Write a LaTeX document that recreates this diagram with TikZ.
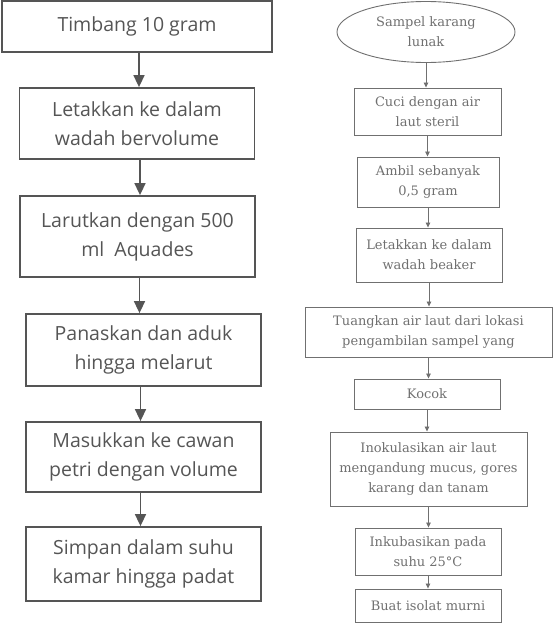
\documentclass[tikz,border=0pt]{standalone}
\usepackage{fontspec}
\setmainfont{DejaVu Serif}
\newfontfamily\boxfont{Open Sans}
\usetikzlibrary{shapes.geometric}
\usetikzlibrary{arrows.meta}
\usetikzlibrary{positioning}

\definecolor{lgray}{HTML}{555555}
\definecolor{rgray}{HTML}{707070}

\begin{document}
\begin{tikzpicture}[x=1pt, y=-1pt,
	bigbox/.style={draw=lgray, line width=1.8pt, text=lgray, align=center, inner sep=0pt, font=\boxfont\fontsize{19.5}{29}\selectfont},
	smallbox/.style={draw=rgray, line width=0.9pt, text=rgray, align=center, inner sep=0pt, font=\fontsize{13}{20}\selectfont},
	bigarrow/.style={draw=lgray, line width=1.6pt, -{Triangle[width=11pt, length=12pt]}},
	smallarrow/.style={draw=rgray, line width=0.8pt, -{Triangle[width=4.5pt, length=5pt]}}]
	\useasboundingbox (0,0) rectangle (554,632);
	% left column
	\node[bigbox, minimum width=270pt, minimum height=51pt] (L1) at (137, 26.5) {Timbang 10 gram};
	\node[bigbox, minimum width=235pt, minimum height=71pt] (L2) at (137, 123.5) {Letakkan ke dalam\\wadah bervolume};
	\node[bigbox, minimum width=235pt, minimum height=81pt] (L3) at (137.5, 236.5) {Larutkan dengan 500\\ml\ \ Aquades};
	\node[bigbox, minimum width=235pt, minimum height=72pt] (L4) at (143.5, 350) {Panaskan dan aduk\\hingga melarut};
	\node[bigbox, minimum width=235pt, minimum height=70pt] (L5) at (143.5, 457) {Masukkan ke cawan\\petri dengan volume};
	\node[bigbox, minimum width=235pt, minimum height=74pt] (L6) at (143.5, 564) {Simpan dalam suhu\\kamar hingga padat};
	\draw[bigarrow] (L1.south) ++(2,0) coordinate (a1) -- (a1 |- L2.north);
	\draw[bigarrow] (L2.south) ++(3,0) coordinate (a2) -- (a2 |- L3.north);
	\draw[bigarrow] (L3.south) ++(2,0) coordinate (a3) -- (a3 |- L4.north);
	\draw[bigarrow] (L4.south) ++(-3,0) coordinate (a4) -- (a4 |- L5.north);
	\draw[bigarrow] (L5.south) ++(-3,0) coordinate (a5) -- (a5 |- L6.north);
	% right column
	\node[ellipse, smallbox, minimum width=178pt, minimum height=61pt] (R0) at (426, 32) {Sampel karang\\lunak};
	\node[smallbox, minimum width=147pt, minimum height=47pt] (R1) at (427.5, 111.5) {Cuci dengan air\\laut steril};
	\node[smallbox, minimum width=142pt, minimum height=50pt] (R2) at (428, 182) {Ambil sebanyak\\0,5 gram};
	\node[smallbox, minimum width=146pt, minimum height=54pt] (R3) at (429, 255) {Letakkan ke dalam\\wadah beaker};
	\node[smallbox, minimum width=247pt, minimum height=50pt] (R4) at (428.5, 332) {Tuangkan air laut dari lokasi\\pengambilan sampel yang};
	\node[smallbox, minimum width=146pt, minimum height=30pt] (R5) at (427, 394) {Kocok};
	\node[smallbox, minimum width=197pt, minimum height=74pt] (R6) at (428.5, 469) {Inokulasikan air laut\\mengandung mucus, gores\\karang dan tanam};
	\node[smallbox, minimum width=146pt, minimum height=47pt] (R7) at (428, 551.5) {Inkubasikan pada\\suhu 25\textdegree C};
	\node[smallbox, minimum width=146pt, minimum height=33pt] (R8) at (428, 605.5) {Buat isolat murni};
	\draw[smallarrow] (R0.south) -- (R0.south |- R1.north);
	\draw[smallarrow] (R1.south) -- (R1.south |- R2.north);
	\draw[smallarrow] (R2.south) -- (R2.south |- R3.north);
	\draw[smallarrow] (R3.south) -- (R3.south |- R4.north);
	\draw[smallarrow] (R4.south) -- (R4.south |- R5.north);
	\draw[smallarrow] (R5.south) -- (R5.south |- R6.north);
	\draw[smallarrow] (R6.south) -- (R6.south |- R7.north);
	\draw[smallarrow] (R7.south) -- (R7.south |- R8.north);
\end{tikzpicture}
\end{document}
